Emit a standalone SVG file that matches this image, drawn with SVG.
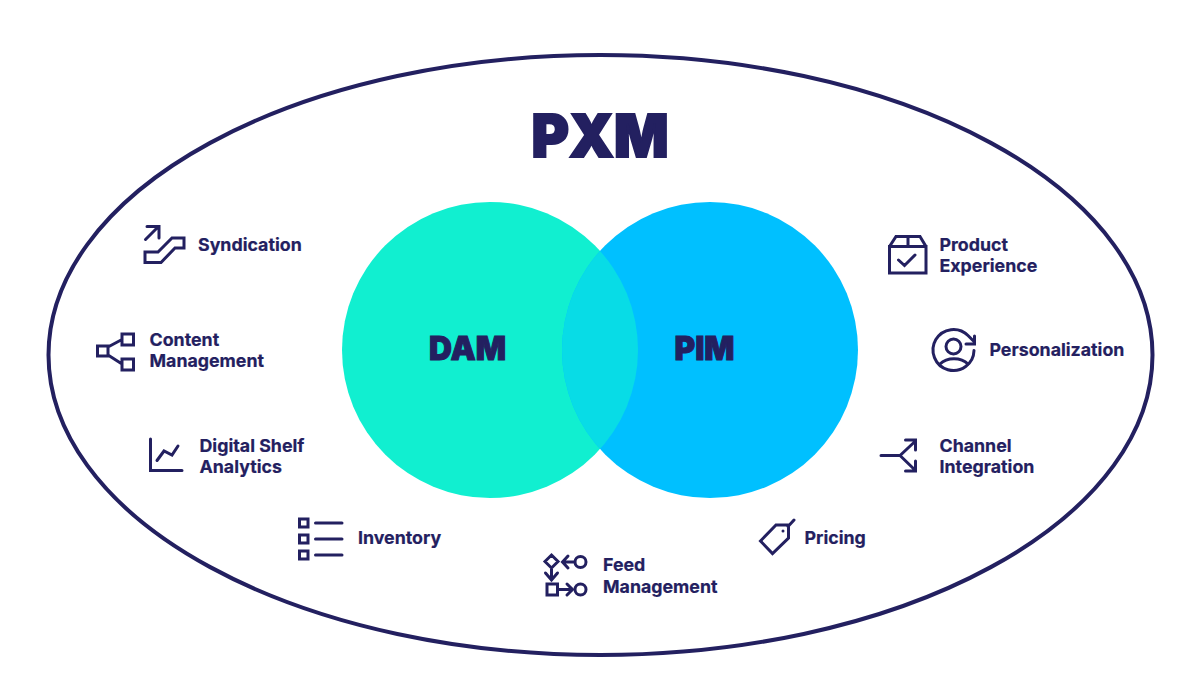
<svg xmlns="http://www.w3.org/2000/svg" width="1200" height="700" viewBox="0 0 1200 700">
<style>
text{font-family:Inter,"Liberation Sans",sans-serif;fill:#232060}
.l{font-size:17.800px;font-weight:700;stroke:#232060;stroke-width:.2}
.h{font-weight:900;stroke:#232060;stroke-linejoin:miter}
.i{fill:none;stroke:#232060;stroke-width:3;stroke-linecap:round;stroke-linejoin:miter}
</style>
<defs><clipPath id="dc"><circle cx="490" cy="350" r="148"/></clipPath></defs>
<rect width="1200" height="700" fill="#fff"/>
<g id="pxm"><ellipse cx="600.500" cy="355" rx="552" ry="300" fill="#fff" stroke="#232060" stroke-width="4"/>
<text class="h" x="600" y="156.500" text-anchor="middle" font-size="59" stroke-width="2" textLength="137" lengthAdjust="spacingAndGlyphs">PXM</text></g>
<g id="dam"><circle cx="490" cy="350" r="148" fill="#11EFD0"/></g>
<g id="pim"><circle cx="710" cy="350" r="148" fill="#00C0FF"/></g>
<g id="overlap"><circle cx="710" cy="350" r="148" fill="#08DCE6" clip-path="url(#dc)"/></g>
<text class="h" x="467.500" y="360" text-anchor="middle" font-size="33" stroke-width="1" textLength="77" lengthAdjust="spacingAndGlyphs">DAM</text>
<text class="h" x="704.500" y="360" text-anchor="middle" font-size="33" stroke-width="1" textLength="60" lengthAdjust="spacingAndGlyphs">PIM</text>
<g id="syndication"><path class="i" d="M145 262.500V252H158L172 238H184V248H175L161 262.500Z"/><path class="i" d="M145.500 239.500L158 227M147 226.500H159V238"/><text class="l" x="198" y="250.500">Syndication</text></g>
<g id="content-management"><path class="i" d="M97.500 346H108V356H97.500ZM122 334H133.500V345H122ZM122 359H133.500V370H122ZM108 347L122 339.500M108 355L122 364"/><text class="l" x="149.500" y="345.500">Content</text><text class="l" x="149.500" y="367">Management</text></g>
<g id="digital-shelf"><path class="i" d="M150.500 439V470.500H182M157 460.500L164 451L172 455L178 446"/><text class="l" x="199.500" y="451.500">Digital Shelf</text><text class="l" x="199.500" y="473">Analytics</text></g>
<g id="inventory"><path class="i" d="M299.500 519H308V527H299.500ZM299.500 535H308V543H299.500ZM299.500 551H308V559H299.500ZM315.500 523H342M315.500 539H342M315.500 555H342"/><text class="l" x="358" y="544">Inventory</text></g>
<g id="feed-management"><path class="i" d="M551.500 555L558 561.500L551.500 568L545 561.500ZM565 562H574M568 556L562.500 562L568 568M551.500 568V580M545.500 573L551.500 580L557.500 573M547 584H557.500V595H547ZM557.500 589.500H572M567 584L572.500 589.500L567 595"/><circle class="i" cx="580.500" cy="562" r="5.500"/><circle class="i" cx="580.500" cy="589.500" r="5.500"/><text class="l" x="603" y="571">Feed</text><text class="l" x="603" y="592.500">Management</text></g>
<g id="pricing"><path class="i" d="M760.500 541L776 525H788.500V538L772.500 553.500ZM788 526.500L794 520"/><circle cx="783" cy="531" r="1.500" fill="#232060"/><text class="l" x="804.500" y="544">Pricing</text></g>
<g id="product-experience"><path class="i" d="M889.500 246.500V273H926V246.500ZM889.500 246.500L896 236.500H920L926 246.500M908 236.500V246.500M898.500 260L904.500 265.500L915 255"/><text class="l" x="939.500" y="250.500">Product</text><text class="l" x="939.500" y="272">Experience</text></g>
<g id="personalization"><path class="i" d="M974 350.500A20.500 20.500 0 1 1 968 335.500L974.500 342M966 344H974.500V336"/><path class="i" d="M940 364C947 357 961 357 968 364"/><circle class="i" cx="953.500" cy="346.500" r="7.500"/><text class="l" x="989.500" y="355.500">Personalization</text></g>
<g id="channel-integration"><path class="i" d="M881 455.500H900L915.500 441M905.500 440H915.500V450M900 455.500L915.500 470.500M905.500 471H915.500V461"/><text class="l" x="939.500" y="451.500">Channel</text><text class="l" x="939.500" y="473">Integration</text></g>
</svg>
